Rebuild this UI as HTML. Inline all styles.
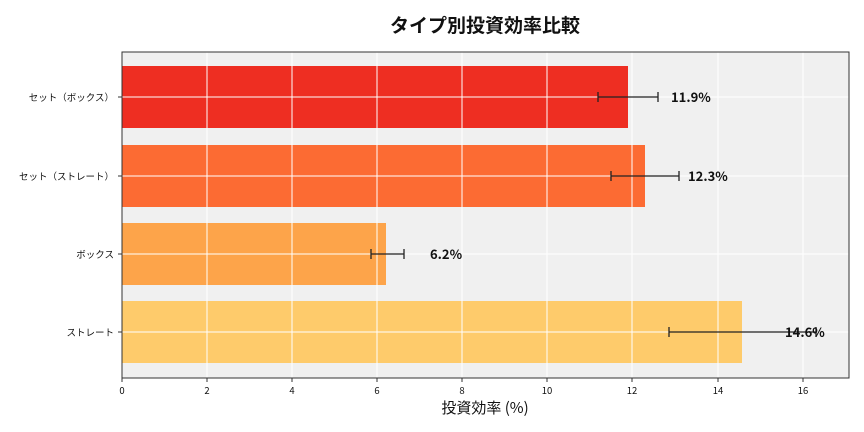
<!DOCTYPE html>
<html><head><meta charset="utf-8"><style>body{margin:0;background:#fff}svg{display:block}text{font-family:"Noto Sans CJK JP","Liberation Sans",sans-serif}</style></head><body>
<svg width="864" height="432" xmlns="http://www.w3.org/2000/svg">
<rect x="122" y="52" width="727" height="326" fill="#f0f0f0"/>
<rect x="122" y="66" width="506" height="62" fill="#ee2e22"/>
<rect x="122" y="145" width="523" height="62" fill="#fc6b33"/>
<rect x="122" y="223" width="264" height="62" fill="#fda44a"/>
<rect x="122" y="301" width="620" height="62" fill="#fecb6b"/>
<g stroke="#fff" stroke-width="1">
<line x1="207" y1="52" x2="207" y2="378"/><line x1="292" y1="52" x2="292" y2="378"/><line x1="377" y1="52" x2="377" y2="378"/><line x1="462" y1="52" x2="462" y2="378"/><line x1="547" y1="52" x2="547" y2="378"/><line x1="632" y1="52" x2="632" y2="378"/><line x1="718" y1="52" x2="718" y2="378"/><line x1="803" y1="52" x2="803" y2="378"/>
<line x1="122" y1="97" x2="849" y2="97"/><line x1="122" y1="176" x2="849" y2="176"/><line x1="122" y1="254" x2="849" y2="254"/><line x1="122" y1="332" x2="849" y2="332"/>
</g>
<g stroke="#222" stroke-width="1.3">
<line x1="598" y1="97" x2="658" y2="97"/><line x1="598" y1="92" x2="598" y2="102"/><line x1="658" y1="92" x2="658" y2="102"/>
<line x1="611" y1="176" x2="679" y2="176"/><line x1="611" y1="171" x2="611" y2="181"/><line x1="679" y1="171" x2="679" y2="181"/>
<line x1="371" y1="254" x2="404" y2="254"/><line x1="371" y1="249" x2="371" y2="259"/><line x1="404" y1="249" x2="404" y2="259"/>
<line x1="669" y1="332" x2="816" y2="332"/><line x1="669" y1="327" x2="669" y2="337"/><line x1="816" y1="327" x2="816" y2="337"/>
</g>
<rect x="122" y="52" width="727" height="326" fill="none" stroke="#333" stroke-width="1"/>
<g font-size="13" font-weight="bold" fill="#111">
<text x="671" y="102">11.9%</text><text x="688" y="181">12.3%</text><text x="430" y="259">6.2%</text><text x="785" y="337">14.6%</text>
</g>
<g font-size="9.5" fill="#111" text-anchor="end">
<text x="114" y="101">セット（ボックス）</text><text x="114" y="180">セット（ストレート）</text><text x="114" y="258">ボックス</text><text x="114" y="336">ストレート</text>
</g>
<g stroke="#333"><line x1="118" y1="97" x2="122" y2="97"/><line x1="118" y1="176" x2="122" y2="176"/><line x1="118" y1="254" x2="122" y2="254"/><line x1="118" y1="332" x2="122" y2="332"/>
<line x1="122" y1="378" x2="122" y2="382"/><line x1="207" y1="378" x2="207" y2="382"/><line x1="292" y1="378" x2="292" y2="382"/><line x1="377" y1="378" x2="377" y2="382"/><line x1="462" y1="378" x2="462" y2="382"/><line x1="547" y1="378" x2="547" y2="382"/><line x1="632" y1="378" x2="632" y2="382"/><line x1="718" y1="378" x2="718" y2="382"/><line x1="803" y1="378" x2="803" y2="382"/></g>
<g font-size="9.5" fill="#111" text-anchor="middle">
<text x="122" y="394">0</text><text x="207" y="394">2</text><text x="292" y="394">4</text><text x="377" y="394">6</text><text x="462" y="394">8</text><text x="547" y="394">10</text><text x="632" y="394">12</text><text x="718" y="394">14</text><text x="803" y="394">16</text>
</g>
<text x="485" y="413" font-size="15" text-anchor="middle" fill="#111">投資効率 (%)</text>
<text x="485" y="32" font-size="19" font-weight="bold" text-anchor="middle" fill="#111">タイプ別投資効率比較</text>
</svg>
</body></html>
